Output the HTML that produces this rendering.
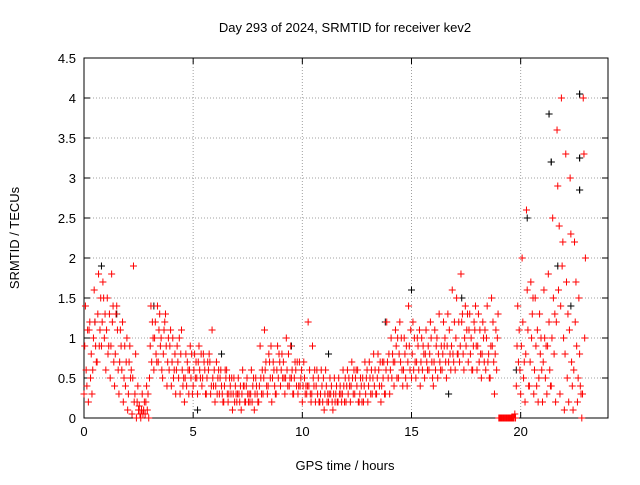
<!DOCTYPE html>
<html><head><meta charset="utf-8"><style>
body{margin:0;background:#fff}
svg text{font-family:"Liberation Sans",sans-serif;font-size:13px;fill:#000}
</style></head><body>
<svg id="chart" width="640" height="480">
<rect width="640" height="480" fill="#fff"/>
<text x="345" y="32" text-anchor="middle">Day 293 of 2024, SRMTID for receiver kev2</text>
<text x="345" y="470" text-anchor="middle">GPS time / hours</text>
<text transform="translate(19,238) rotate(-90)" text-anchor="middle">SRMTID / TECUs</text>
<g id="grid"></g>
<g id="axes"></g>
<g id="black"></g>
<g id="red"></g>
<g id="blk2"></g>
</svg>
<script>
const xTicks=[0,5,10,15,20];
const yTicks=[0,0.5,1,1.5,2,2.5,3,3.5,4,4.5];
const yTickLabels=["0","0.5","1","1.5","2","2.5","3","3.5","4","4.5"];
const redA=[.3,.2,.6,.7,.9,.6,.5,.4,.3,.2,.1,.05,0,0,.05,.5,.6,.7,.5,.4,.4,.3,.3,.2,.3,.4,.3,.4,.3,.3,.2,.3,.2,.2,.1,.2,.1,.2,.2,.1,.2,.3,.3,.2,.3,.4,.3,.4,.3,.3,.2,.3,.2,.2,.2,.1,.2,.1,.2,.2,.2,.2,.3,.2,.2,.2,.3,.3,.2,.3,.3,.4,.5,.4,.4,.5,.5,.4,.5,.6,.4,.5,.6,.5,.6,.6,.7,.6,.7,.6,.6,.5,.6,.5,.3,0,0,0,0,.4,.3,.2,.4,.3,.2,.2,.3,.4,.2,.3,.1,.2,.1,.2,0];
const redB=[.9,1.1,1.0,1.3,1.2,1.1,.9,.8,.7,.5,.3,.5,.2,.1,.2,.9,1.0,1.1,.8,.7,.7,.6,.8,.5,.6,.6,.7,.5,.5,.4,.4,.5,.4,.3,.3,.3,.3,.4,.3,.3,.4,.5,.4,.5,.6,.6,.5,.5,.5,.4,.4,.4,.3,.4,.3,.3,.3,.3,.2,.3,.4,.4,.5,.3,.4,.4,.5,.5,.4,.6,.6,.7,.8,.6,.7,.8,.7,.7,.8,.8,.7,.8,.8,.9,.9,1.0,.9,1.0,1.1,.9,.9,.8,1.0,.9,.8,0,0,0,0,.9,.9,.8,.7,.6,.5,.7,.9,1.0,1.2,1.4,.8,1.1,.6,.5,.3];
const redC=[1.4,1.2,1.6,1.8,1.7,1.5,1.8,1.3,1.1,.9,.7,1.9,.4,.3,.4,1.4,1.2,1.3,1.1,1.0,1.0,.9,1.1,.8,.9,.8,.9,.8,.7,1.1,.7,.6,.6,.5,.5,.5,.6,.5,.6,.5,.9,1.1,.8,.7,.9,.8,1.0,.9,.7,.7,.7,1.2,.9,.6,.6,.6,.5,.5,.5,.6,.6,.7,.6,.5,.7,.7,.8,.8,.7,1.2,1.0,1.1,1.2,1.0,1.4,1.2,1.0,1.0,1.1,1.2,1.1,1.3,1.2,1.3,1.6,1.5,1.8,1.4,1.3,1.2,1.3,1.2,1.4,1.5,1.1,0,0,0,0,1.4,2.0,2.6,1.7,1.5,1.3,1.6,1.8,2.5,3.6,4.0,3.3,3.0,2.2,1.5,4.0];
const redD=[.6,.5,1.2,.9,1.5,.8,1.2,1.4,.9,.4,.9,.2,.1,.05,.1,.7,.8,.9,1.2,.6,.5,.7,.6,.4,.5,.5,.6,.7,.6,.5,.3,.4,.5,.4,.2,.3,.4,.3,.2,.4,.5,.6,.7,.6,.5,.5,.6,.5,.6,.4,.5,.4,.5,.3,.4,.4,.3,.2,.3,.4,.3,.5,.4,.4,.3,.5,.4,.6,.5,.7,.5,.9,.7,.8,.9,.6,.9,.6,.7,1.0,.6,.7,.9,.7,.8,.8,1.2,.9,.8,1.1,.7,1.0,.7,.9,.6,0,0,0,0,.7,1.2,1.6,1.0,.9,.8,1.0,1.2,1.5,2.9,1.9,1.7,2.3,1.2,.8,3.3];
const redE=[.4,.8,.9,1.1,1.0,.9,1.4,1.1,.6,.7,.5,.3,.15,.1,.3,1.2,.7,1.0,1.3,.9,.6,.5,.4,.7,.8,.7,.5,.6,.8,.4,.5,.3,.6,.3,.4,.2,.4,.2,.4,.3,.3,.7,.5,.4,.8,.7,.4,.6,.4,.5,.3,.6,.4,.5,.2,.2,.4,.3,.4,.2,.5,.3,.6,.2,.5,.3,.6,.4,.7,.5,.8,.5,1.0,.5,.6,1.0,.6,.9,.6,.7,.9,.6,1.0,1.1,.7,.8,1.3,1.1,1.0,1.4,1.1,.7,.8,1.2,1.0,0,0,0,.05,1.1,.5,1.1,1.3,.4,1.0,.5,.6,.8,1.6,2.2,.5,.7,1.7,.4,1.0];
const redF=[1.1,.3,.7,1.5,1.3,1.3,.7,.6,1.2,1.0,.6,.8,.05,.2,0,1.0,1.4,.6,.9,1.1,.8,1.0,.5,.6,.3,.5,.8,.3,.7,.6,.6,.2,.3,.5,.3,.4,.2,.3,.5,.2,.6,.4,.9,.3,.7,.5,.8,.3,.7,.6,.4,.3,.6,.2,.5,.3,.2,.4,.3,.5,.4,.6,.2,.5,.6,.6,.3,.7,.3,.8,.7,1.0,.6,.9,1.1,.7,1.1,.8,.9,.5,1.0,.9,.7,.8,1.2,1.2,.8,1.3,.6,.9,.8,1.1,.5,.7,1.3,0,0,0,0,.6,.7,.4,1.5,1.1,.6,.9,.4,1.3,2.4,1.0,1.3,.4,.9,.3,2.0];
const blackT=[0.5,0.8,1.5,3.2,5.2,6.3,9.5,11.2,13.8,15,16.7,17.3,19.8,20.3,21.3,21.4,21.7,22.7,22.7,22.7,22.3];
const blackV=[1.2,1.9,1.3,1.4,0.1,0.8,0.9,0.8,1.2,1.6,0.3,1.5,0.6,2.5,3.8,3.2,1.9,4.05,3.25,2.85,1.4];
const L=84,R=608,T=58,B=418,XMAX=24,YMAX=4.5;
const xs=v=>L+(R-L)*v/XMAX, ys=v=>B-(B-T)*v/YMAX;
const NS="http://www.w3.org/2000/svg";
function mk(tag,attrs,parent){const e=document.createElementNS(NS,tag);for(const k in attrs)e.setAttribute(k,attrs[k]);parent.appendChild(e);return e;}
const grid=document.getElementById('grid'),axes=document.getElementById('axes');
xTicks.forEach(v=>{const x=xs(v);
 if(v>0){const g=mk('line',{x1:x,x2:x,y1:T,y2:B,stroke:'#a0a0a0','stroke-dasharray':'1,2'},grid);}
 mk('line',{x1:x,x2:x,y1:B,y2:B-6,stroke:'#000'},axes);mk('line',{x1:x,x2:x,y1:T,y2:T+6,stroke:'#000'},axes);
 const t=mk('text',{x:x,y:B+18,'text-anchor':'middle'},axes);t.textContent=v;
 
 });
yTicks.forEach((v,i)=>{const y=ys(v);
 if(v>0&&v<YMAX){const g=mk('line',{x1:L,x2:R,y1:y,y2:y,stroke:'#a0a0a0','stroke-dasharray':'1,2'},grid);}
 mk('line',{x1:L,x2:L+6,y1:y,y2:y,stroke:'#000'},axes);mk('line',{x1:R,x2:R-6,y1:y,y2:y,stroke:'#000'},axes);
 const t=mk('text',{x:L-8,y:y+5,'text-anchor':'end'},axes);t.textContent=yTickLabels[i];
 
 });
mk('rect',{x:L,y:T,width:R-L,height:B-T,fill:'none',stroke:'#000'},axes);
function plus(g,t,v,c){const x=xs(t),y=ys(v);
 const p=mk('path',{d:`M${x-3.5},${y}h7M${x},${y-3.5}v7`,stroke:c,'stroke-width':1,fill:'none'},g);
 
 }
const red=document.getElementById('red'),blk=document.getElementById('black'),blk2=document.getElementById('blk2');
blackT.forEach((t,i)=>plus(blk,t,blackV[i],'#000'));
[redA,redB,redC,redD,redE,redF].forEach((s,k)=>s.forEach((v,i)=>plus(red,i*0.2+k*0.033,v,'#ff0000')));
blackT.forEach((t,i)=>{if(blackV[i]>2.8)plus(blk2,t,blackV[i],'#000');});
</script>
</body></html>
